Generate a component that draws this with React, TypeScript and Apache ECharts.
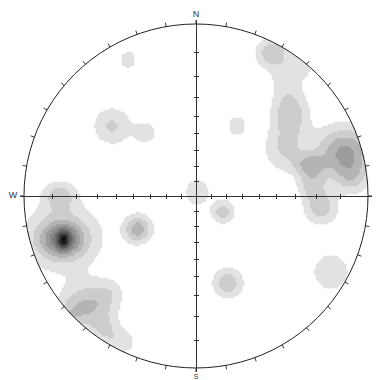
import React, { useEffect, useRef } from "react";
import * as echarts from "echarts";

// Pole-density clusters in stereonet units (net radius = 100; x east, y north)
const clusterX = [-77.9, -77.3, -76.7, -79.1, -33.7, 18.6, 15.7, 0.6, 78.5, 72.7, -62.8, -50.0, -44.2, -39.5, -48.8, -29.1, 23.8, 44.8, 51.7, 54.7, 86.6, 66.3, 67.4, 90.7, 51.7, 61.6, -53.5, -74.4];
const clusterY = [-24.4, -25.0, -25.6, 0.6, -19.2, -50.6, -9.3, 2.3, -44.2, -7.0, -63.4, -55.8, -84.9, 79.1, 40.7, 36.6, 40.7, 83.1, 67.4, 48.3, 25.6, 18.0, 6.4, 10.5, 26.7, 75.6, -76.7, -70.9];
const clusterPeak = [3.3, 4, 5, 2.3, 3.6, 2.9, 2.6, 1.8, 1.8, 2.6, 3.05, 1.0, 1.6, 1.7, 2.15, 1.5, 1.7, 2.95, 1.2, 2.8, 4.2, 2.6, 2.2, 1.8, 1.9, 1.5, 1.4, 1.5];
const clusterSpreadX = [15.1, 7.0, 2.3, 7.0, 5.8, 6.1, 4.9, 5.5, 8.7, 7.0, 11.0, 5.8, 7.6, 3.8, 8.1, 5.2, 4.4, 7.0, 6.4, 7.6, 11.6, 6.4, 5.8, 7.0, 9.3, 5.2, 5.8, 5.8];
const clusterSpreadY = [12.8, 5.8, 3.5, 5.8, 5.8, 6.1, 4.9, 6.4, 8.7, 7.0, 9.3, 5.8, 5.8, 4.4, 8.1, 5.2, 4.9, 6.4, 6.4, 9.9, 10.5, 4.7, 5.8, 7.0, 9.3, 5.2, 5.8, 5.8];

// Contour level shades (level 1 .. 12)
const levelColors = ["#e2e2e2", "#cdcdcd", "#b4b4b4", "#9c9c9c", "#888888", "#757575", "#636363", "#525252", "#404040", "#2e2e2e", "#1c1c1c", "#080808"];

// Plunge ticks along the cross (equal-angle net)
const tickPlunges = [80, 70, 60, 50, 40, 30, 20, 10];
const directionLabels = ["N", "W", "S"];

const GRID_N = 172;

function density(u: number, v: number): number {
  let s = 0;
  for (let i = 0; i < clusterX.length; i++) {
    const dx = (u - clusterX[i]) / clusterSpreadX[i];
    const dy = (v - clusterY[i]) / clusterSpreadY[i];
    s += clusterPeak[i] * Math.exp(-0.5 * (dx * dx + dy * dy));
  }
  return s;
}

export default function App() {
  const ref = useRef<HTMLDivElement>(null);
  useEffect(() => {
    if (!ref.current) return;
    const chart = echarts.init(ref.current, null, { renderer: "svg" });
    const cx = 196, cy = 196, R = 172;
    const cats = Array.from({ length: GRID_N }, (_, i) => String(i));
    const data: number[][] = [];
    const step = 200 / GRID_N;
    for (let i = 0; i < GRID_N; i++) {
      const u = -100 + (i + 0.5) * step;
      for (let j = 0; j < GRID_N; j++) {
        const v = -100 + (j + 0.5) * step;
        if (u * u + v * v > 100 * 100) continue;
        const lvl = Math.min(levelColors.length, Math.floor(density(u, v)));
        if (lvl >= 1) data.push([i, j, lvl]);
      }
    }
    const graphics: any[] = [];
    const lineStyle = { stroke: "#333", lineWidth: 1 };
    graphics.push({ type: "line", shape: { x1: 20, y1: cy + 0.5, x2: 372, y2: cy + 0.5 }, style: lineStyle, z: 20 });
    graphics.push({ type: "line", shape: { x1: cx + 0.5, y1: 20, x2: cx + 0.5, y2: 372 }, style: lineStyle, z: 20 });
    tickPlunges.forEach((p) => {
      const d = Math.round(R * Math.tan(((45 - p / 2) * Math.PI) / 180));
      [cx - d, cx + d].forEach((x) => {
        graphics.push({ type: "line", shape: { x1: x + 0.5, y1: cy - 2, x2: x + 0.5, y2: cy + 3 }, style: lineStyle, z: 20 });
      });
      [cy - d, cy + d].forEach((y) => {
        graphics.push({ type: "line", shape: { x1: cx - 2, y1: y + 0.5, x2: cx + 3, y2: y + 0.5 }, style: lineStyle, z: 20 });
      });
    });
    const labelPos: Record<string, [number, number]> = { N: [cx, 14], W: [13, cy - 1], S: [cx, 376] };
    directionLabels.forEach((t) => {
      graphics.push({
        type: "text",
        x: labelPos[t][0],
        y: labelPos[t][1],
        z: 20,
        style: { text: t, fill: "#333333", font: t === "S" ? "7px Liberation Sans" : "9px Liberation Sans", align: "center", verticalAlign: "middle" },
      });
    });

    chart.setOption({
      animation: false,
      backgroundColor: "#ffffff",
      grid: { left: 24, top: 24, width: 344, height: 344 },
      xAxis: { type: "category", data: cats, show: false },
      yAxis: { type: "category", data: cats, show: false },
      polar: { center: [cx, cy], radius: R },
      angleAxis: {
        type: "value",
        min: 0,
        max: 360,
        interval: 10,
        startAngle: 90,
        clockwise: true,
        z: 10,
        axisLine: { show: true, lineStyle: { color: "#222", width: 1 } },
        axisTick: { show: true, inside: false, length: 4, lineStyle: { color: "#333", width: 1 } },
        axisLabel: { show: false },
        splitLine: { show: false },
      },
      radiusAxis: { show: false, min: 0, max: 1 },
      visualMap: {
        type: "piecewise",
        show: false,
        dimension: 2,
        seriesIndex: 0,
        pieces: levelColors.map((c, k) => ({ value: k + 1, color: c })),
      },
      series: [
        {
          type: "heatmap",
          data,
          progressive: 0,
          itemStyle: { borderWidth: 0 },
          emphasis: { disabled: true },
        },
      ],
      graphic: graphics,
    });
    return () => chart.dispose();
  }, []);
  return <div ref={ref} style={{ position: "absolute", left: 0, top: 0, width: 376, height: 380 }} />;
}
